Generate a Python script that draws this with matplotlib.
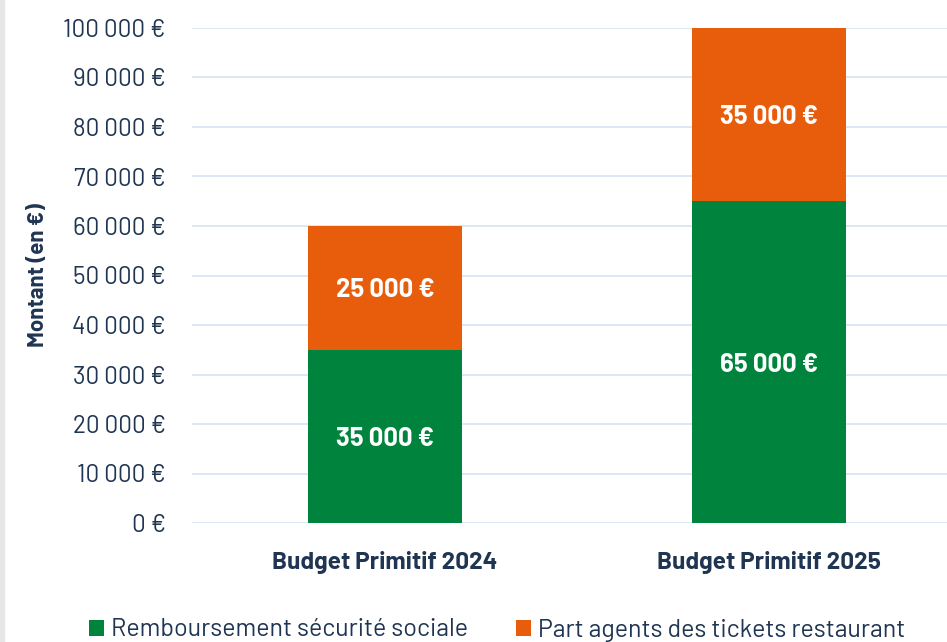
import matplotlib
matplotlib.use("Agg")
import matplotlib.pyplot as plt
from matplotlib.patches import Rectangle
from matplotlib import font_manager

categories = ["Budget Primitif 2024", "Budget Primitif 2025"]
secu = [35000, 65000]
tickets = [25000, 35000]
series_names = ["Remboursement sécurité sociale", "Part agents des tickets restaurant"]
yticks = list(range(0, 100001, 10000))

names = {f.name for f in font_manager.fontManager.ttflist}
fams = [n for n in ["Barlow", "Barlow Semi Condensed", "Liberation Sans Narrow"] if n in names][:1]
plt.rcParams['font.family'] = fams + ['DejaVu Sans']

GREEN = "#00843D"
ORANGE = "#E85D0C"
TXT = "#1F3552"
GRID = "#D5E3F3"

def fmt(v):
    return f"{v:,}".replace(",", " ") + " €"

fig = plt.figure(figsize=(9.47, 6.42), dpi=100)
fig.patch.set_facecolor("white")
fig.add_artist(Rectangle((0, 0), 4/947, 1, transform=fig.transFigure, color="#E6E6E6", zorder=0))
ax = fig.add_axes([192/947, 1-523/642, 1-192/947, (523-28)/642])

x = list(range(len(categories)))
w = 0.40
b1 = ax.bar(x, secu, w, color=GREEN, label=series_names[0], zorder=3)
b2 = ax.bar(x, tickets, w, bottom=secu, color=ORANGE, label=series_names[1], zorder=3)

for i in x:
    ax.text(i, secu[i]/2, fmt(secu[i]), ha="center", va="center_baseline", color="white",
            fontsize=18.5, fontweight="bold", zorder=4)
    ax.text(i, secu[i] + tickets[i]/2, fmt(tickets[i]), ha="center", va="center_baseline", color="white",
            fontsize=18.5, fontweight="bold", zorder=4)

ax.set_xlim((192-385)/384, (947-385)/384)
ax.set_ylim(0, 100000)
ax.set_yticks(yticks)
ax.set_yticklabels([fmt(v) for v in yticks], fontsize=17.5, color=TXT)
ax.set_xticks(x)
ax.set_xticklabels(categories, fontsize=17.5, fontweight="bold", color=TXT)
ax.tick_params(axis="y", length=0, pad=19)
ax.tick_params(axis="x", length=0, pad=20)
ax.grid(axis="y", color=GRID, linewidth=1.2, zorder=0)
for s in ax.spines.values():
    s.set_visible(False)
ax.set_ylabel("Montant (en €)", fontsize=16, fontweight="bold", color=TXT, labelpad=11)

leg = fig.legend(handles=[b1, b2], labels=series_names, loc="center", ncol=2,
                 bbox_to_anchor=(497/947, 1-630/642), frameon=False, fontsize=18,
                 handlelength=0.6, handleheight=0.6, handletextpad=0.3, columnspacing=1.9,
                 labelcolor=TXT)

fig.savefig("out.png", dpi=100, facecolor="white")
